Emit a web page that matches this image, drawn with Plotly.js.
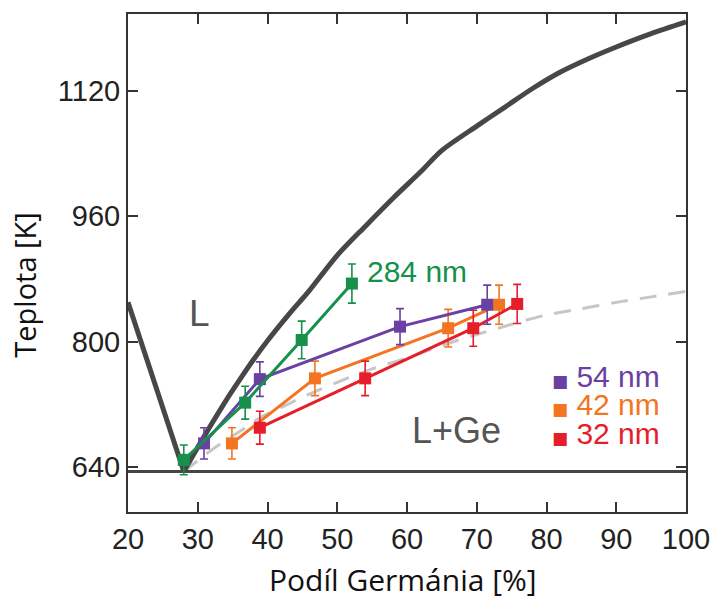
<!DOCTYPE html>
<html><head><meta charset="utf-8">
<script src="https://cdn.plot.ly/plotly-3.0.1.min.js"></script>
<style>html,body{margin:0;padding:0;background:#fff}</style>
</head><body>
<div id="chart" style="width:712px;height:601px"></div>
<script>
// Axis ticks
const xTickVals = [20, 30, 40, 50, 60, 70, 80, 90, 100];
const yTickVals = [640, 800, 960, 1120];

// Phase diagram boundaries
const liqLeftX = [20, 28];
const liqLeftY = [850, 634];
const liqRightX = [28, 30, 32, 34, 36, 38, 40, 43, 46, 50, 54, 58, 62, 65, 70, 74, 78, 82, 86, 90, 95, 100];
const liqRightY = [634, 665, 695, 724, 751, 777, 801, 834, 865, 910, 947, 983, 1017, 1044, 1075, 1099, 1123, 1144, 1161, 1176, 1193, 1208];
const eutX = [20, 100];
const eutY = [634, 634];
const dashX = [28, 31, 33, 36, 39, 42, 46, 50, 55, 60, 65, 70, 75, 80, 85, 90, 95, 100];
const dashY = [634, 655, 668, 685, 703, 716, 733, 748, 765, 779, 795, 809, 822, 834, 842, 850, 857, 864];

// Measured series
const g284X = [28, 36.8, 44.9, 52.1];
const g284Y = [649, 722, 802, 874];
const g284E = [19, 21, 24, 25];
const p54X = [30.9, 38.9, 59, 71.5];
const p54Y = [670, 752, 819, 847];
const p54E = [20, 22, 23, 25];
const o42X = [34.9, 46.8, 65.9, 73.2];
const o42Y = [670, 753, 817, 847];
const o42E = [20, 22, 24, 25];
const r32X = [38.9, 54, 69.5, 75.8];
const r32Y = [690, 753, 817, 848];
const r32E = [21, 22, 23, 25];

const cGreen = '#16904a', cPurple = '#6a40a3', cOrange = '#f37521', cRed = '#e61e2a';

function series(x, y, e, c, name) {
  return {
    x: x, y: y, name: name, type: 'scatter', mode: 'lines+markers',
    line: {color: c, width: 3},
    marker: {symbol: 'square', size: 12, color: c},
    error_y: {type: 'data', array: e, visible: true, color: c, thickness: 1.6, width: 4},
    showlegend: false, cliponaxis: false
  };
}

const traces = [
  {x: dashX, y: dashY, mode: 'lines', line: {color: '#c6c6c6', width: 3, dash: '17px,12px', shape: 'spline', smoothing: 0.8}, showlegend: false},
  {x: eutX, y: eutY, mode: 'lines', line: {color: '#454545', width: 3}, showlegend: false},
  {x: liqLeftX, y: liqLeftY, mode: 'lines', line: {color: '#474747', width: 5}, showlegend: false},
  {x: liqRightX, y: liqRightY, mode: 'lines', line: {color: '#474747', width: 5, shape: 'spline', smoothing: 0.8}, showlegend: false},
  series(o42X, o42Y, o42E, cOrange, '42 nm'),
  series(r32X, r32Y, r32E, cRed, '32 nm'),
  series(p54X, p54Y, p54E, cPurple, '54 nm'),
  series(g284X, g284Y, g284E, cGreen, '284 nm')
];

const axisCommon = {
  showgrid: false, zeroline: false, showline: true, linecolor: '#333', linewidth: 2,
  mirror: 'ticks', ticks: 'inside', ticklen: 10, tickwidth: 2, tickcolor: '#333',
  tickfont: {family: 'Liberation Sans, Arial, sans-serif', size: 29, color: '#222'}
};

const sq = '<span style="font-family:DejaVu Sans;font-size:17px">■</span> ';
const legFont = 'Liberation Sans, Arial, sans-serif';

const layout = {
  width: 712, height: 601,
  margin: {l: 128, r: 26, t: 14, b: 89},
  paper_bgcolor: '#fff', plot_bgcolor: '#fff',
  xaxis: Object.assign({}, axisCommon, {range: [20, 100], tickvals: xTickVals, ticktext: xTickVals.map(String)}),
  yaxis: Object.assign({}, axisCommon, {range: [582.4, 1218.1], tickvals: yTickVals, ticktext: yTickVals.map(String)}),
  annotations: [
    {text: 'Teplota [K]', xref: 'paper', yref: 'paper', x: -0.185, y: 0.456, textangle: -90, showarrow: false,
     font: {family: 'Open Sans, sans-serif', size: 29, color: '#111'}, xanchor: 'center', yanchor: 'middle'},
    {text: 'Podíl Germánia [%]', xref: 'paper', yref: 'paper', x: 0.492, y: -0.1365, showarrow: false,
     font: {family: 'Open Sans, sans-serif', size: 30, color: '#111'}, xanchor: 'center', yanchor: 'middle'},
    {text: 'L', x: 30.3, y: 836, showarrow: false, font: {family: legFont, size: 37, color: '#555'}},
    {text: 'L+Ge', x: 67.1, y: 686, showarrow: false, font: {family: legFont, size: 36, color: '#555'}},
    {text: '284 nm', x: 61.4, y: 890, showarrow: false, font: {family: legFont, size: 30, color: cGreen}},
    {text: sq + '54 nm', x: 80.5, y: 755, xanchor: 'left', showarrow: false, font: {family: legFont, size: 30, color: cPurple}},
    {text: sq + '42 nm', x: 80.5, y: 719, xanchor: 'left', showarrow: false, font: {family: legFont, size: 30, color: cOrange}},
    {text: sq + '32 nm', x: 80.5, y: 683, xanchor: 'left', showarrow: false, font: {family: legFont, size: 30, color: cRed}}
  ]
};

Plotly.newPlot('chart', traces, layout, {displayModeBar: false, staticPlot: true});
</script>
</body></html>
